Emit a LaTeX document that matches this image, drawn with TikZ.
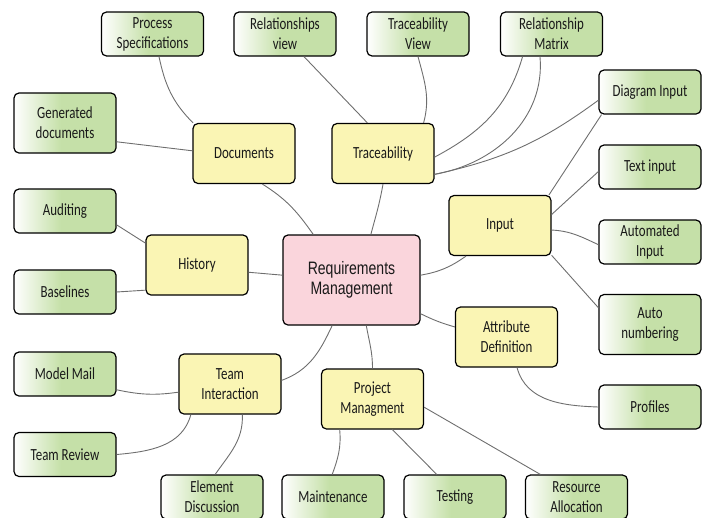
\documentclass[tikz,border=0pt]{standalone}
\usepackage{fontspec}
\newfontfamily\boxfont{Carlito}[FakeStretch=0.76]
\newfontfamily\hubfont{Liberation Sans}[FakeStretch=0.78]
\definecolor{leafgreen}{HTML}{C5E0A8}
\definecolor{topicyellow}{HTML}{FAF5B4}
\definecolor{hubpink}{HTML}{FAD5DC}
\definecolor{linkgray}{HTML}{6E6E6E}
\pgfdeclarehorizontalshading{leafshade}{100bp}{color(0bp)=(white); color(25bp)=(white); color(48bp)=(leafgreen); color(100bp)=(leafgreen)}

\begin{document}
\begin{tikzpicture}[
	x=1pt, y=-1pt,
	mynode/.style = {
		draw, rectangle, rounded corners=5pt, align=center, line width=1.2pt,
		minimum width=102pt, minimum height=60pt, inner sep=0pt,
		font=\boxfont\fontsize{17}{20}\selectfont, text=black!90},
	topicnode/.style = {mynode, fill=topicyellow},
	leafnode/.style = {mynode, shading=leafshade, minimum height=44pt},
	tallleaf/.style = {leafnode, minimum height=60pt},
	hubnode/.style = {
		mynode, fill=hubpink, minimum width=137pt, minimum height=90pt,
		font=\hubfont\fontsize{18}{20}\selectfont},
	link/.style = {draw=linkgray, line width=0.9pt}
]
\useasboundingbox (0,0) rectangle (708,517);
\clip (0,0) rectangle (708,517);

% centre and first ring
\node (req)  [hubnode]   at (351.5,280) {Requirements\\ Management};
\node (doc)  [topicnode] at (244,153.5)  {Documents};
\node (trc)  [topicnode] at (383,153.5)  {Traceability};
\node (inp)  [topicnode] at (500,225.5)  {Input};
\node (hist) [topicnode] at (197,265)    {History};
\node (attr) [topicnode] at (506.5,337)  {Attribute\\ Definition};
\node (proj) [topicnode] at (372.5,399)  {Project\\ Managment};
\node (team) [topicnode] at (230,384)    {Team\\ Interaction};

% leaves
\node (procspec) [leafnode] at (152.5,34) {Process\\ Specifications};
\node (relview)  [leafnode] at (285,34)   {Relationships\\ view};
\node (trcview)  [leafnode] at (418,34)   {Traceability\\ View};
\node (relmat)   [leafnode] at (551.5,34) {Relationship\\ Matrix};
\node (gendoc)   [tallleaf] at (65,123)   {Generated\\ documents};
\node (diagin)   [leafnode] at (650,92)   {Diagram Input};
\node (textin)   [leafnode] at (650,167)  {Text input};
\node (autoin)   [leafnode] at (650,242)  {Automated\\ Input};
\node (autonum)  [tallleaf] at (650,324.5) {Auto\\ numbering};
\node (profiles) [leafnode] at (650,407)  {Profiles};
\node (audit)    [leafnode] at (65,211)   {Auditing};
\node (base)     [leafnode] at (65,292)   {Baselines};
\node (mail)     [leafnode] at (65,374)   {Model Mail};
\node (review)   [leafnode] at (65,454.5) {Team Review};
\node (elemdisc) [leafnode] at (212,497)  {Element\\ Discussion};
\node (maint)    [leafnode] at (333,497)  {Maintenance};
\node (testing)  [leafnode] at (455,497)  {Testing};
\node (resalloc) [leafnode] at (576.5,497) {Resource\\ Allocation};

% connectors
\draw[link] (procspec.-74) to[out=-78, in=135] (doc.149);
\draw[link] (gendoc.-20) -- (doc.177);
\draw[link] (doc.-59) to[out=-32, in=125] (req.130);
\draw[link] (relview.-50) -- (trc.117);
\draw[link] (trcview.south) to[out=-75, in=75] (trc.37);
\draw[link] (relmat.-142) to[out=-106, in=28] (trc.-4);
\draw[link] (relmat.-117) to[out=-85, in=10] (trc.-22);
\draw[link] (diagin.-171) to[bend left=12] (trc.-22);
\draw[link] (diagin.-155) -- (inp.32);
\draw[link] (textin.-175) -- (inp.12);
\draw[link] (inp.-5) to[out=-3, in=155] (autoin.-177);
\draw[link] (inp.-30) -- (autonum.162);
\draw[link] (req.4) to[out=10, in=-145] (inp.-138);
\draw[link] (trc.south) to[out=-100, in=75] (req.67);
\draw[link] (req.-26) to[bend right=5] (attr.169);
\draw[link] (attr.-71) to[out=-75, in=178] (profiles.west);
\draw[link] (req.-72) to[out=-80, in=90] (proj.north);
\draw[link] (proj.-9) -- (resalloc.148);
\draw[link] (proj.-57) -- (testing.129);
\draw[link] (proj.-137) to[out=-85, in=70] (maint.92);
\draw[link] (hist.-8) -- (req.176);
\draw[link] (audit.-15) -- (hist.157);
\draw[link] (base.east) -- (hist.-154);
\draw[link] (req.-113) to[out=-115, in=20] (team.4);
\draw[link] (mail.-17) to[out=-12, in=-172] (team.-171);
\draw[link] (review.east) to[out=5, in=-105] (team.-142);
\draw[link] (elemdisc.82) to[out=55, in=-88] (team.-68);
\end{tikzpicture}
\end{document}
